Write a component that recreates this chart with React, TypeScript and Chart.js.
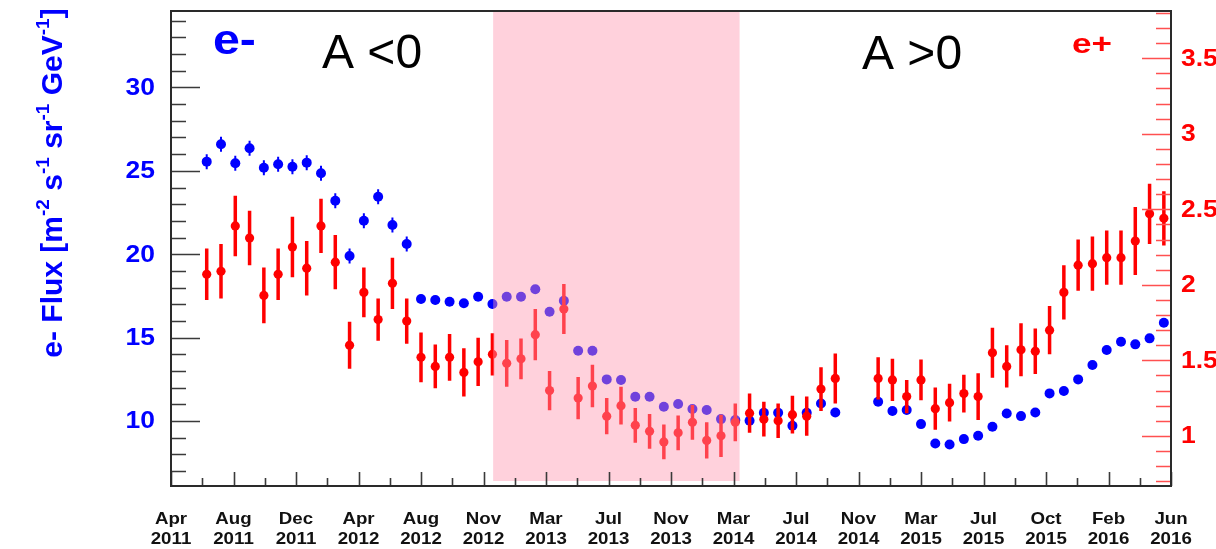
import { useEffect, useRef } from 'react';
import { Chart, registerables } from 'chart.js';

Chart.register(...registerables);

// Electron flux (left axis) per Bartels rotation, May 2011 - May 2016
const electronFlux: (number | null)[] = [
  25.55, 26.59, 25.45, 26.35, 25.19, 25.39, 25.25, 25.49, 24.85, 23.21,
  19.9, 22.01, 23.45, 21.75, 20.61, 17.32, 17.26, 17.15, 17.06, 17.45,
  17.02, 17.45, 17.45, 17.9, 16.55, 17.21, 14.22, 14.22, 12.5, 12.46,
  11.46, 11.46, 10.86, 11.02, 10.72, 10.66, 10.12, 10.06, 10.02, 10.5,
  10.5, 9.72, 10.5, 11.06, 10.52, null, null, 11.16, 10.6, 10.66,
  9.82, 8.66, 8.6, 8.92, 9.12, 9.66, 10.46, 10.3, 10.52, 11.66,
  11.8, 12.5, 13.36, 14.26, 14.76, 14.6, 14.96, 15.9,
];
const electronErr: (number | null)[] = [
  0.45, 0.45, 0.45, 0.45, 0.45, 0.45, 0.45, 0.45, 0.45, 0.45,
  0.45, 0.45, 0.45, 0.45, 0.45, 0.25, 0.25, 0.25, 0.25, 0.25,
  0.25, 0.25, 0.25, 0.25, 0.25, 0.25, 0.25, 0.25, 0.25, 0.25,
  0.25, 0.25, 0.25, 0.25, 0.25, 0.25, 0.25, 0.25, 0.25, 0.25,
  0.25, 0.25, 0.25, 0.25, 0.25, null, null, 0.25, 0.25, 0.25,
  0.25, 0.25, 0.25, 0.25, 0.25, 0.25, 0.25, 0.25, 0.25, 0.25,
  0.25, 0.25, 0.25, 0.25, 0.25, 0.25, 0.25, 0.25,
];

// Positron flux (right axis) per Bartels rotation
const positronFlux: (number | null)[] = [
  2.07, 2.09, 2.39, 2.31, 1.93, 2.07, 2.25, 2.11, 2.39, 2.15,
  1.6, 1.95, 1.77, 2.01, 1.76, 1.52, 1.46, 1.52, 1.42, 1.49,
  1.54, 1.48, 1.51, 1.67, 1.3, 1.84, 1.25, 1.33, 1.13, 1.2,
  1.07, 1.03, 0.96, 1.02, 1.09, 0.97, 1.0, 1.09, 1.15, 1.11,
  1.1, 1.14, 1.13, 1.31, 1.38, null, null, 1.38, 1.37, 1.26,
  1.37, 1.18, 1.22, 1.28, 1.26, 1.55, 1.46, 1.57, 1.56, 1.7,
  1.95, 2.13, 2.14, 2.18, 2.18, 2.29, 2.47, 2.44,
];
const positronErr: (number | null)[] = [
  0.17, 0.18, 0.2, 0.18, 0.185, 0.17, 0.2, 0.18, 0.18, 0.18,
  0.155, 0.165, 0.14, 0.17, 0.15, 0.165, 0.145, 0.155, 0.16, 0.16,
  0.14, 0.155, 0.135, 0.17, 0.13, 0.165, 0.14, 0.14, 0.12, 0.125,
  0.115, 0.115, 0.115, 0.115, 0.115, 0.12, 0.14, 0.125, 0.13, 0.115,
  0.115, 0.125, 0.13, 0.145, 0.165, null, null, 0.14, 0.14, 0.11,
  0.135, 0.14, 0.125, 0.125, 0.155, 0.165, 0.14, 0.175, 0.15, 0.16,
  0.18, 0.17, 0.18, 0.18, 0.18, 0.225, 0.2, 0.18,
];

// Time axis labels, one every major tick
const monthLabels = ['Apr', 'Aug', 'Dec', 'Apr', 'Aug', 'Nov', 'Mar', 'Jul', 'Nov', 'Mar', 'Jul', 'Nov', 'Mar', 'Jul', 'Oct', 'Feb', 'Jun'];
const yearLabels = ['2011', '2011', '2011', '2012', '2012', '2012', '2013', '2013', '2013', '2014', '2014', '2014', '2015', '2015', '2015', '2016', '2016'];

const leftTicks = [10, 15, 20, 25, 30];
const rightTicks = [1, 1.5, 2, 2.5, 3, 3.5];
const rightTickText = ['1', '1.5', '2', '2.5', '3', '3.5'];

// Axis ranges (x is in units of Bartels rotations)
const X_MIN = -2.5;
const X_MAX = 67.5;
const X_TICK_STEP = 4.375;
const LEFT_MIN = 6.11;
const LEFT_MAX = 34.58;
const RIGHT_MIN = 0.668;
const RIGHT_MAX = 3.813;
// Shaded polarity-reversal period
const REVERSAL_FROM = 20.05;
const REVERSAL_TO = 37.3;

const BLUE = '#0000ff';
const RED = '#ff0000';
const FONT = '"Liberation Sans", Arial, Helvetica, sans-serif';

function stretchedText(
  ctx: CanvasRenderingContext2D,
  text: string,
  x: number,
  y: number,
  align: CanvasTextAlign,
  sx: number
) {
  ctx.save();
  ctx.translate(x, y);
  ctx.scale(sx, 1);
  ctx.textAlign = align;
  ctx.fillText(text, 0, 0);
  ctx.restore();
}

const errorSets: Record<string, { vals: (number | null)[]; errs: (number | null)[]; color: string; width: number }> = {
  positron: { vals: positronFlux, errs: positronErr, color: RED, width: 3.5 },
  electron: { vals: electronFlux, errs: electronErr, color: BLUE, width: 2 },
};

const rootStyle = {
  id: 'rootStyle',
  beforeDatasetDraw(chart: any, args: any) {
    const ds = chart.data.datasets[args.index];
    const set = errorSets[ds.label];
    if (!set) return;
    const ctx: CanvasRenderingContext2D = chart.ctx;
    const xs = chart.scales.x;
    const ys = chart.scales[ds.yAxisID];
    const area = chart.chartArea;
    ctx.save();
    ctx.beginPath();
    ctx.rect(area.left, area.top, area.right - area.left, area.bottom - area.top);
    ctx.clip();
    ctx.strokeStyle = set.color;
    ctx.lineWidth = set.width;
    ctx.beginPath();
    set.vals.forEach((v, i) => {
      const e = set.errs[i];
      if (v == null || e == null) return;
      const x = xs.getPixelForValue(i);
      ctx.moveTo(x, ys.getPixelForValue(v + e));
      ctx.lineTo(x, ys.getPixelForValue(v - e));
    });
    ctx.stroke();
    ctx.restore();
  },
  afterDatasetsDraw(chart: any) {
    const ctx: CanvasRenderingContext2D = chart.ctx;
    const { left, right, top, bottom } = chart.chartArea;
    const xs = chart.scales.x;
    const yl = chart.scales.yL;
    const yr = chart.scales.yR;

    // translucent band over the reversal period
    ctx.save();
    ctx.fillStyle = 'rgba(255,150,175,0.44)';
    const px0 = xs.getPixelForValue(REVERSAL_FROM);
    const px1 = xs.getPixelForValue(REVERSAL_TO);
    ctx.fillRect(px0, top + 1, px1 - px0, bottom - 5 - (top + 1));
    ctx.restore();

    ctx.save();
    // left axis ticks (inward)
    ctx.strokeStyle = '#3a3a3a';
    ctx.lineWidth = 1.6;
    ctx.beginPath();
    for (let v = 7; v <= 34; v++) {
      const y = Math.round(yl.getPixelForValue(v)) + 0.5;
      const len = v % 5 === 0 ? 29 : 15;
      ctx.moveTo(left, y);
      ctx.lineTo(left + len, y);
    }
    ctx.stroke();

    // bottom axis ticks
    ctx.beginPath();
    for (let k = 0; k <= 32; k++) {
      const x = Math.round(xs.getPixelForValue(X_MIN + (k * X_TICK_STEP) / 2)) + 0.5;
      const len = k % 2 === 0 ? 14 : 8;
      ctx.moveTo(x, bottom);
      ctx.lineTo(x, bottom - len);
    }
    ctx.stroke();

    // right axis ticks (positron scale)
    ctx.strokeStyle = '#ff5050';
    ctx.lineWidth = 1.6;
    ctx.beginPath();
    for (let k = 7; k <= 38; k++) {
      const v = k / 10;
      const y = Math.round(yr.getPixelForValue(v)) + 0.5;
      const len = k % 5 === 0 ? 29 : 15;
      ctx.moveTo(right, y);
      ctx.lineTo(right - len, y);
    }
    ctx.stroke();

    // frame
    ctx.strokeStyle = '#2a2a2a';
    ctx.lineWidth = 2;
    ctx.strokeRect(left, top, right - left, bottom - top);
    ctx.restore();

    // left tick labels
    ctx.save();
    ctx.fillStyle = BLUE;
    ctx.font = `bold 23px ${FONT}`;
    ctx.textBaseline = 'middle';
    leftTicks.forEach((v) => {
      stretchedText(ctx, String(v), left - 16, yl.getPixelForValue(v) + 1, 'right', 1.15);
    });

    // right tick labels
    ctx.fillStyle = RED;
    rightTicks.forEach((v, i) => {
      stretchedText(ctx, rightTickText[i], right + 10, yr.getPixelForValue(v) + 1, 'left', 1.15);
    });

    // time labels
    ctx.fillStyle = '#111';
    ctx.font = `bold 17px ${FONT}`;
    ctx.textBaseline = 'alphabetic';
    monthLabels.forEach((m, k) => {
      const x = xs.getPixelForValue(X_MIN + k * X_TICK_STEP);
      stretchedText(ctx, m, x, 524, 'center', 1.1);
      stretchedText(ctx, yearLabels[k], x, 544, 'center', 1.1);
    });

    // left axis title with superscripts
    const segs: [string, boolean][] = [
      ['e- Flux [m', false], ['-2', true], [' s', false], ['-1', true],
      [' sr', false], ['-1', true], [' GeV', false], ['-1', true], [']', false],
    ];
    const bigFont = `bold 30px ${FONT}`;
    const supFont = `bold 19px ${FONT}`;
    let total = 0;
    segs.forEach(([t, sup]) => {
      ctx.font = sup ? supFont : bigFont;
      total += ctx.measureText(t).width;
    });
    ctx.translate(62, 183);
    ctx.rotate(-Math.PI / 2);
    ctx.fillStyle = BLUE;
    ctx.textAlign = 'left';
    let pos = -total / 2;
    segs.forEach(([t, sup]) => {
      ctx.font = sup ? supFont : bigFont;
      ctx.fillText(t, pos, sup ? -13 : 0);
      pos += ctx.measureText(t).width;
    });
    ctx.restore();

    // species and polarity annotations
    ctx.save();
    ctx.textBaseline = 'alphabetic';
    ctx.fillStyle = BLUE;
    ctx.font = `bold 42px ${FONT}`;
    stretchedText(ctx, 'e-', 213, 54, 'left', 1.15);
    ctx.fillStyle = RED;
    ctx.font = `bold 28px ${FONT}`;
    stretchedText(ctx, 'e+', 1072, 53, 'left', 1.25);
    ctx.fillStyle = '#000';
    ctx.font = `48px ${FONT}`;
    ctx.textAlign = 'left';
    ctx.fillText('A <0', 322, 68);
    ctx.fillText('A >0', 862, 69);
    ctx.restore();
  },
};

export default function App() {
  const canvasRef = useRef<HTMLCanvasElement | null>(null);

  useEffect(() => {
    document.body.style.margin = '0';
    const canvas = canvasRef.current;
    if (!canvas) return;
    const toPoints = (vals: (number | null)[]) =>
      vals.map((v, i) => ({ x: i, y: v })).filter((p) => p.y != null);

    const chart = new Chart(canvas, {
      type: 'scatter',
      data: {
        datasets: [
          {
            label: 'positron',
            data: toPoints(positronFlux) as any,
            yAxisID: 'yR',
            backgroundColor: RED,
            borderColor: RED,
            borderWidth: 0,
            pointRadius: 4.6,
            pointStyle: 'circle',
          },
          {
            label: 'electron',
            data: toPoints(electronFlux) as any,
            yAxisID: 'yL',
            backgroundColor: BLUE,
            borderColor: BLUE,
            borderWidth: 0,
            pointRadius: 5,
            pointStyle: 'circle',
          },
        ],
      },
      options: {
        responsive: false,
        devicePixelRatio: 1,
        animation: false,
        events: [],
        layout: { padding: { left: 171, right: 45, top: 11, bottom: 63 } },
        plugins: { legend: { display: false }, tooltip: { enabled: false } },
        scales: {
          x: { type: 'linear', min: X_MIN, max: X_MAX, display: false },
          yL: { type: 'linear', position: 'left', min: LEFT_MIN, max: LEFT_MAX, display: false },
          yR: { type: 'linear', position: 'right', min: RIGHT_MIN, max: RIGHT_MAX, display: false },
        },
      },
      plugins: [rootStyle as any],
    });
    return () => chart.destroy();
  }, []);

  return (
    <div style={{ width: 1216, height: 549, background: '#fff' }}>
      <canvas ref={canvasRef} width={1216} height={549} style={{ display: 'block' }} />
    </div>
  );
}
